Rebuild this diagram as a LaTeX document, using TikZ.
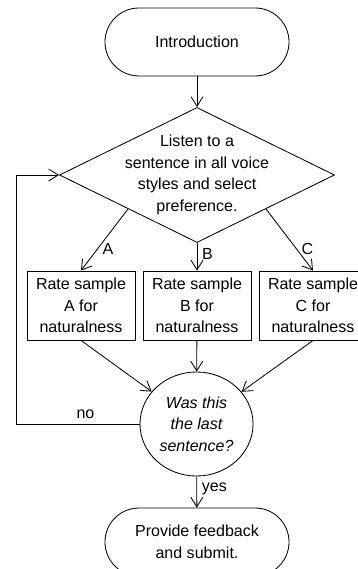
\documentclass[tikz,border=0pt]{standalone}
\usepackage{fontspec}
\setmainfont{Liberation Sans}
\usepackage{tikz}
\usetikzlibrary{positioning, shapes, arrows.meta}

\newcommand{\chartsize}{\fontsize{11.4}{15.3}\selectfont}

\tikzset{
    terminal/.style={draw, rectangle, rounded corners=0.85cm, minimum width=4.6cm, minimum height=1.7cm, align=center},
    decision/.style={draw, diamond, minimum width=6.875cm, minimum height=3.375cm, inner sep=0pt},
    rating/.style={draw, rectangle, minimum width=2.7cm, minimum height=1.725cm, inner sep=0pt, align=center},
    question/.style={draw, ellipse, minimum width=2.825cm, minimum height=2.6cm, inner sep=0pt, align=center, font=\chartsize\itshape},
    flow/.style={-{Straight Barb[length=2.4mm,width=3mm]}}
}

\begin{document}
\begin{tikzpicture}[x=0.025cm, y=-0.025cm, line width=0.6pt, font=\chartsize]
        \useasboundingbox (0,0) rectangle (357,569); % page size of the reference

        % Nodes of the flow chart
        \node[terminal] (intro) at (197,42) {Introduction};
        \node[decision, label={[align=center]center:Listen to a\\sentence in all voice\\styles and select\\preference.}] (listen) at (197,175) {};
        \node[rating] (rateA) at (81,305.5) {Rate sample\\A for\\naturalness};
        \node[rating] (rateB) at (197,305.5) {Rate sample\\B for\\naturalness};
        \node[rating] (rateC) at (313,305.5) {Rate sample\\C for\\naturalness};
        \node[question] (last) at (196.5,424) {Was this\\the last\\sentence?};
        \node[terminal] (submit) at (197,542) {Provide feedback\\and submit.};

        % Connectors
        \draw[flow] (intro) -- (listen);
        \draw[flow] (listen.south west) -- node[right, pos=0.65] {A} (rateA.north);
        \draw[flow] (listen.south) -- node[right, pos=0.4] {B} (rateB.north);
        \draw[flow] (listen.south east) -- node[right, pos=0.65] {C} (rateC.north);
        \draw[flow] (rateA.south) -- (last);
        \draw[flow] (rateB) -- (last);
        \draw[flow] (rateC.south) -- (last);
        \draw[flow] (last.west) -- node[above, pos=0.44] {no} ++(-123,0) |- (listen.west); % loop back
        \draw[flow] (last) -- node[right, pos=0.4] {yes} (submit);
    \end{tikzpicture}
\end{document}
